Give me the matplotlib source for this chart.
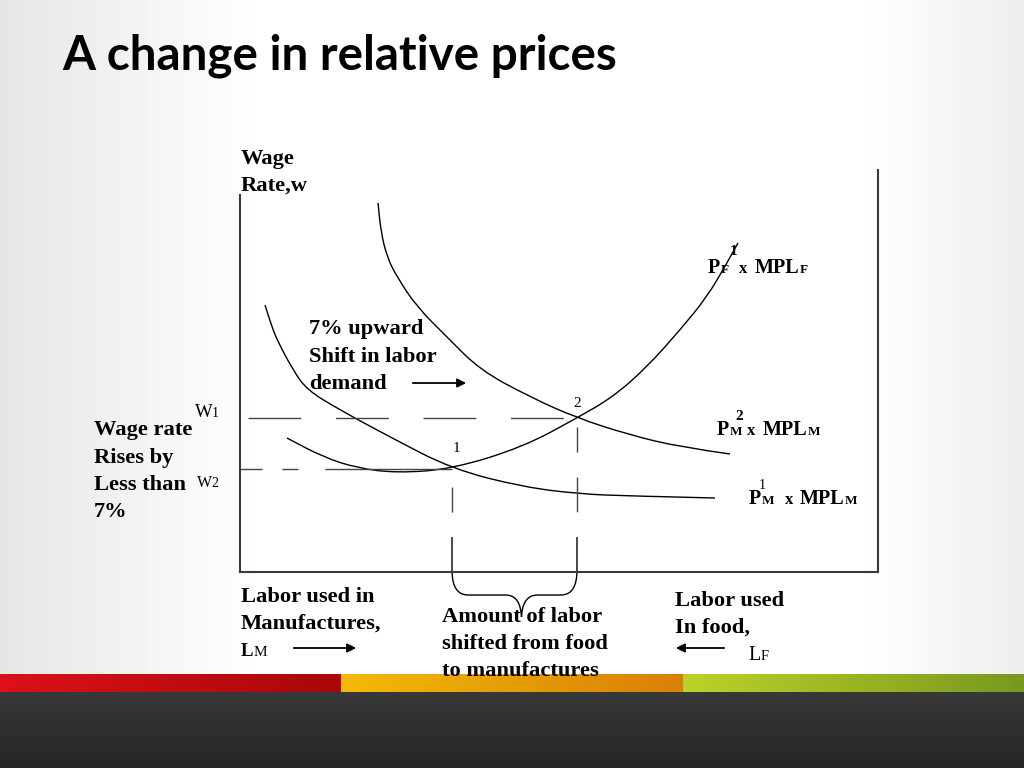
import numpy as np
import matplotlib
matplotlib.use("Agg")
import matplotlib.pyplot as plt
from matplotlib.path import Path
from matplotlib.patches import PathPatch

# diagram units: labor (x) 0..638, wage (y) 0..402
demand_hi_x = [138, 141, 147, 157, 177, 207, 240, 290, 337, 390, 440, 490]
demand_hi_y = [369, 340, 315, 295, 265, 235, 202, 175, 154, 137, 125, 118]
demand_lo_x = [25, 31, 37, 53, 67, 100, 150, 212, 283, 340, 390, 475]
demand_lo_y = [267, 248, 232, 202, 182, 162, 135, 103, 85, 78, 76, 74]
food_x = [47, 83, 117, 157, 212, 283, 337, 373, 407, 440, 467, 487, 498]
food_y = [134, 115, 104, 99, 103, 125, 154, 175, 205, 242, 275, 309, 329]
eq1 = (212, 103)   # w2, labor split before
eq2 = (337, 154)   # w1, labor split after

title = "A change in relative prices"
# (text, x, baseline) in slide pixels
bold_lines = [
    ("Wage", 241, 164), ("Rate,w", 241, 191),
    ("7% upward", 309, 334), ("Shift in labor", 309, 361.5), ("demand", 309, 389),
    ("Wage rate", 94, 435), ("Rises by", 94, 462.5), ("Less than", 94, 490), ("7%", 94, 517),
    ("Labor used in", 241, 602), ("Manufactures,", 241, 629),
    ("Amount of labor", 442, 622), ("shifted from food", 442, 649), ("to manufactures", 442, 676),
    ("Labor used", 675, 606), ("In food,", 675, 633),
]

fig = plt.figure(figsize=(10.24, 7.68), dpi=100)
bg = fig.add_axes([0, 0, 1, 1], zorder=0)
bg.set_xlim(0, 1024)
bg.set_ylim(768, 0)
bg.axis("off")

# slide background with soft grey edges
xs = np.arange(1024)
shade = 1 - 0.10 * np.clip((260 - xs) / 260, 0, 1) - 0.07 * np.clip((xs - 860) / 164, 0, 1)
bg.imshow(np.tile(shade, (10, 1)), cmap="gray", vmin=0, vmax=1, aspect="auto",
          extent=(0, 1024, 674, 0), zorder=0)

def band(x0, x1, c0, c1):
    t = np.linspace(0, 1, 64)[None, :, None]
    img = np.array(c0)[None, None, :] * (1 - t) + np.array(c1)[None, None, :] * t
    bg.imshow(img, aspect="auto", extent=(x0, x1, 692, 674), zorder=1)

band(0, 341, (0.86, 0.07, 0.09), (0.66, 0.03, 0.03))
band(341, 683, (0.95, 0.73, 0.02), (0.85, 0.50, 0.02))
band(683, 1024, (0.74, 0.82, 0.15), (0.47, 0.60, 0.13))
dark = np.linspace(0.22, 0.15, 40)
bg.imshow(np.tile(dark[:, None], (1, 10)), cmap="gray", vmin=0, vmax=1, aspect="auto",
          extent=(0, 1024, 768, 692), zorder=1)

t = bg.text(62, 70, title, family="Lato", weight="bold", size=36, va="baseline")
w = t.get_window_extent(renderer=fig.canvas.get_renderer()).width
t.set_fontsize(36 * 555 / w)

serif = "Liberation Serif"
for s, x, y in bold_lines:
    bg.text(x, y, s, family=serif, weight="bold", size=16.2, va="baseline")

def put(x, y, s, size, weight="bold", **kw):
    bg.text(x, y, s, family=serif, weight=weight, size=size, va="baseline", **kw)

put(241, 656, "L", 13.5)
put(254, 656, "M", 11, "normal")
put(748, 660, "L", 14.5, "normal")
put(761, 660, "F", 10.5, "normal")
put(195, 417, "W", 13.5, "normal")
put(212, 417, "1", 10, "normal")
put(197, 487, "W", 11.5, "normal")
put(211, 487, "2", 10, "normal")
put(577, 407, "2", 11, "normal", ha="center")
put(456, 452, "1", 11, "normal", ha="center")

# curve labels
for yb, x0, sub, xs_ in [(273, 708, "F", (721, 739, 755, 800)),
                         (435, 717, "M", (730, 747, 763, 808)),
                         (504, 749, "M", (762, 785, 800, 845))]:
    put(x0, yb, "P", 14.5)
    put(xs_[0], yb, sub, 9.5)
    put(xs_[1], yb, "x", 12)
    put(xs_[2], yb, "MPL", 14.5)
    put(xs_[3], yb, sub, 9.5)
put(734, 255, "1", 11, ha="center")
put(739, 420, "2", 11, ha="center")
put(762, 489, "1", 10, "normal", ha="center")

arrow = dict(arrowstyle="-|>", lw=1.3, color="black", mutation_scale=13)
bg.annotate("", xy=(469, 383), xytext=(410, 383), arrowprops=arrow)
bg.annotate("", xy=(359, 648), xytext=(291, 648), arrowprops=arrow)
bg.annotate("", xy=(673, 648), xytext=(727, 648), arrowprops=arrow)

# the diagram itself
ax = fig.add_axes([240 / 1024, 196 / 768, 638 / 1024, 402 / 768], zorder=2)
ax.patch.set_alpha(0)
ax.set_xlim(0, 638)
ax.set_ylim(0, 402)
ax.set_xticks([])
ax.set_yticks([])
ax.spines["top"].set_visible(False)
for side in ("left", "right", "bottom"):
    ax.spines[side].set_color("#3a3a3a")
    ax.spines[side].set_linewidth(1.5)
ax.spines["left"].set_bounds(0, 377)


def smooth_curve(xv, yv):
    # quadratic bezier through the midpoints, read points act as control points
    pts = list(zip(xv, yv))
    verts = [pts[0], ((pts[0][0] + pts[1][0]) / 2, (pts[0][1] + pts[1][1]) / 2)]
    codes = [Path.MOVETO, Path.LINETO]
    for i in range(1, len(pts) - 1):
        nxt = pts[i + 1] if i + 1 == len(pts) - 1 else ((pts[i][0] + pts[i + 1][0]) / 2,
                                                          (pts[i][1] + pts[i + 1][1]) / 2)
        verts += [pts[i], nxt]
        codes += [Path.CURVE3, Path.CURVE3]
    ax.add_patch(PathPatch(Path(verts, codes), fill=False, lw=1, color="black"))


smooth_curve(demand_hi_x, demand_hi_y)
smooth_curve(demand_lo_x, demand_lo_y)
smooth_curve(food_x, food_y)

dash_col = "#444444"
ax.plot([8, eq2[0]], [eq2[1], eq2[1]], color=dash_col, lw=1, ls=(0, (38, 25)))
ax.plot([0, eq1[0]], [eq1[1], eq1[1]], color=dash_col, lw=1,
        ls=(0, (15.8, 14.4, 11.5, 19.4, 95, 5)))
ax.plot([eq1[0], eq1[0]], [eq1[1], 35], color=dash_col, lw=1, ls=(0, (0.01, 13, 18, 18)))
ax.plot([eq2[0], eq2[0]], [eq2[1], 35], color=dash_col, lw=1,
        ls=(0, (0.01, 6.5, 18, 18, 25, 18)))

# brace under the shifted labor
l, r = eq1[0], eq2[0]
mid = (l + r) / 2 + 7
verts = [(l, 35), (l, 2), (l, -23), (l + 16, -23), (mid - 16, -23), (mid - 1, -23), (mid, -45),
         (r, 35), (r, 2), (r, -23), (r - 16, -23), (mid + 16, -23), (mid + 1, -23), (mid, -45)]
codes = [Path.MOVETO, Path.LINETO, Path.CURVE3, Path.CURVE3, Path.LINETO, Path.CURVE3, Path.CURVE3] * 2
ax.add_patch(PathPatch(Path(verts, codes), fill=False, lw=1, color="black", clip_on=False))

fig.savefig("out.png", dpi=100)
